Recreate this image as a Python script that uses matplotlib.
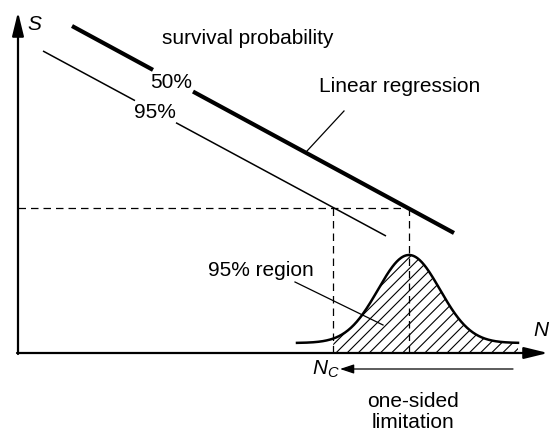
import numpy as np
import matplotlib
matplotlib.use("Agg")
from matplotlib import pyplot as plt

plt.rcParams['font.family'] = ['Liberation Sans', 'DejaVu Sans']
plt.rcParams['mathtext.fontset'] = 'custom'
plt.rcParams['mathtext.it'] = 'Liberation Sans:italic'
plt.rcParams['mathtext.rm'] = 'Liberation Sans'
plt.rcParams['hatch.linewidth'] = 0.8

# schematic drawn in a pixel-like coordinate frame (y grows downwards)
origin = (18, 353)
axis_end_x = 548
axis_end_y = 12

# regression lines: (x0, y0, x1, y1) and the gap left for the label
line50 = [72, 26, 454, 233]
gap50 = [153, 193]
line95 = [43, 51, 386, 236]
gap95 = [135, 176]

# bell curve (distribution of N at the level S)
mu = 409
sigma = 31
peak = 88
base = 343
curve_x = [297, 518]
Nc = 333
S_level = 208

fig = plt.figure(figsize=(5.5, 4.32), dpi=100)
ax = fig.add_axes([0, 0, 1, 1])
ax.set_xlim(0, 550)
ax.set_ylim(432, 0)
ax.axis('off')

# axes with arrows
head = '-|>,head_length=0.9,head_width=0.22'
ax.annotate('', xy=(origin[0], axis_end_y), xytext=(origin[0], origin[1] + 1),
            arrowprops=dict(arrowstyle=head, lw=1.6, color='k', mutation_scale=16,
                            shrinkA=0, shrinkB=0))
ax.annotate('', xy=(axis_end_x, origin[1]), xytext=(origin[0] - 1, origin[1]),
            arrowprops=dict(arrowstyle=head, lw=1.6, color='k', mutation_scale=16,
                            shrinkA=0, shrinkB=0))


def broken_line(seg, gap, lw):
    x0, y0, x1, y1 = seg
    k = (y1 - y0) / (x1 - x0)
    for a, b in [(x0, gap[0]), (gap[1], x1)]:
        ax.plot([a, b], [y0 + k * (a - x0), y0 + k * (b - x0)], color='k', lw=lw,
                solid_capstyle='butt')


broken_line(line50, gap50, 3.0)
broken_line(line95, gap95, 1.1)

# dashed guides
dash = dict(color='k', lw=0.9, linestyle=(0, (6, 4)))
ax.plot([origin[0], mu], [S_level, S_level], **dash)
ax.plot([Nc, Nc], [S_level, origin[1]], **dash)
ax.plot([mu, mu], [S_level, origin[1]], **dash)

# bell curve and hatched region
xs = np.linspace(curve_x[0], curve_x[1], 300)
ys = base - peak * np.exp(-0.5 * ((xs - mu) / sigma) ** 2)
m = xs >= Nc
ax.fill_between(xs[m], ys[m], origin[1], facecolor='none', edgecolor='k',
                hatch='///', linewidth=0)
ax.plot(xs, ys, color='k', lw=1.8)

# texts
fs = 15
ax.text(34, 24, 'S', fontsize=fs, style='italic', ha='center', va='center')
ax.text(541, 330, 'N', fontsize=fs, style='italic', ha='center', va='center')
ax.text(248, 38, 'survival probability', fontsize=fs, ha='center', va='center')
ax.text(171, 82, '50%', fontsize=fs, ha='center', va='center')
ax.text(155, 112, '95%', fontsize=fs, ha='center', va='center')
ax.text(400, 86, 'Linear regression', fontsize=fs, ha='center', va='center')
ax.plot([344, 307], [111, 151], color='k', lw=0.9)
ax.text(261, 270, '95% region', fontsize=fs, ha='center', va='center')
ax.plot([295, 383], [282, 325], color='k', lw=0.9)
ax.text(340, 369, '$N_C$', fontsize=fs, ha='right', va='center')
ax.annotate('', xy=(340, 369), xytext=(513, 369),
            arrowprops=dict(arrowstyle='-|>,head_length=0.6,head_width=0.2', lw=0.9,
                            color='k', mutation_scale=14, shrinkA=0, shrinkB=0))
ax.text(413, 412, 'one-sided\nlimitation', fontsize=fs, ha='center', va='center',
        linespacing=1.1)

fig.savefig('out.png', dpi=100)
